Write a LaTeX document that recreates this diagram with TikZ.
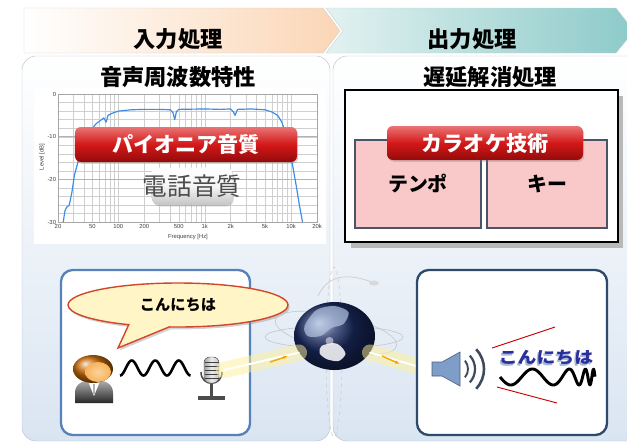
\documentclass[tikz,border=0pt]{standalone}
\usepackage{fontspec}
\setmainfont{Noto Sans CJK JP}
\newfontfamily\axisfont{Liberation Sans}
\usepackage{tikz}
\usetikzlibrary{
    arrows.meta,
    positioning,
    shapes.geometric,
    shapes.callouts,
    shadows,
    calc
}
\definecolor{bannerpeach}{HTML}{FBD6B6}
\definecolor{bannertealpale}{HTML}{E2F2F1}
\definecolor{bannerteal}{HTML}{8CCAC9}
\definecolor{panelblue}{HTML}{DAE5F2}
\definecolor{panelline}{HTML}{B9C3CF}
\definecolor{gridgray}{HTML}{CFCFCF}
\definecolor{curveblue}{HTML}{3D8DE2}
\definecolor{btnredtop}{HTML}{E97474}
\definecolor{btnred}{HTML}{D41818}
\definecolor{btnreddark}{HTML}{930B0B}
\definecolor{tilepink}{HTML}{F9C9CA}
\definecolor{tileborder}{HTML}{4A5468}
\definecolor{frameblue}{HTML}{5781B9}
\definecolor{framenavy}{HTML}{2E4A6B}
\definecolor{bubblefill}{HTML}{FFF5C6}
\definecolor{bubbleline}{HTML}{D2472C}
\definecolor{speakerblue}{HTML}{7F9DC9}
\definecolor{wavegray}{HTML}{3E4A5E}
\definecolor{helloblue}{HTML}{2B2F9C}
\definecolor{globenavy}{HTML}{1B2B63}
\definecolor{globeland}{HTML}{B4C4E2}
\definecolor{beamyellow}{HTML}{FFF19A}
\definecolor{sparkorange}{HTML}{F5A800}
\definecolor{hairbrown}{HTML}{B8660E}
\definecolor{facepeach}{HTML}{F7B45A}
\tikzset{
    stage label/.style={
        font=\bfseries\fontsize{19}{21}\selectfont
    },
    panel title/.style={
        font=\bfseries\fontsize{19}{21}\selectfont
    },
    grid line/.style={
        draw=gridgray, line width=0.3pt
    },
    curve line/.style={
        draw=curveblue, line width=1pt, line join=round
    },
    tick label/.style={
        font=\axisfont\fontsize{5}{6}\selectfont, text=black!75,
        inner sep=1.5pt
    },
    red button/.style={
        rectangle, rounded corners=5pt,
        top color=btnredtop, bottom color=btnreddark, middle color=btnred,
        text=white, font=\bfseries\fontsize{18}{20}\selectfont,
        drop shadow={opacity=0.3, shadow xshift=1pt, shadow yshift=-1.5pt}
    },
    gray button/.style={
        rectangle, rounded corners=6pt,
        top color=white, bottom color=gray!45, middle color=gray!8,
        drop shadow={opacity=0.35, shadow xshift=1pt, shadow yshift=-1.5pt}
    },
    tile/.style={
        rectangle, draw=tileborder, line width=0.9pt, fill=tilepink,
        font=\bfseries\fontsize{17}{19}\selectfont
    },
    media frame/.style={
        rectangle, draw=#1, line width=2pt, rounded corners=10pt,
        fill=white
    },
    beam glow/.style={
        line width=14pt, draw=beamyellow, opacity=0.5, line cap=round
    },
    beam core/.style={
        line width=1.6pt, draw=white, line cap=round
    },
    spark/.style={
        -{Latex[length=4pt,width=3pt]}, line width=1.2pt, draw=sparkorange
    },
    orbit/.style={
        draw=gray!45, line width=0.5pt
    },
}

\begin{document}
\begin{tikzpicture}[x=0.03cm, y=0.03cm]
    \useasboundingbox (0,0) rectangle (627,-443);
    \fill[white] (0,0) rectangle (627,-443);

    % Stage banners
    \shade[left color=white, right color=bannerpeach, draw=gray!35]
        (24,-8) -- (323,-8) -- (340,-31) -- (323,-53) -- (24,-53) -- cycle;
    \shade[left color=bannertealpale, right color=bannerteal, draw=gray!35]
        (326,-8) -- (616,-8) -- (634,-31) -- (616,-53) -- (326,-53) -- (343,-31) -- cycle;
    \node[stage label] (inStage) at (178,-39) {入力処理};
    \node[stage label] (outStage) at (472,-39) {出力処理};

    % Panels
    \shade[top color=white, bottom color=panelblue, draw=panelline, rounded corners=12pt]
        (22,-56) rectangle (330,-441);
    \shade[top color=white, bottom color=panelblue, draw=panelline, rounded corners=12pt]
        (333,-56) rectangle (650,-441);
    \node[panel title] (inTitle) at (178,-77) {音声周波数特性};
    \node[panel title] (outTitle) at (490,-77) {遅延解消処理};

    % Frequency response chart
    \fill[white] (34,-88) rectangle (326,-244);
    \begin{scope}[shift={(58,-94)}, xscale=86.33, yscale=4.27]
        \foreach \v in {-2,-4,...,-28}
            \draw[grid line] (0,\v) -- (3,\v);
        \foreach \e in {1,2,3,4}
            \foreach \m in {1,...,9} {
                \pgfmathsetmacro\lx{log10(\m)+\e-1.30103}
                \ifdim\lx pt>-0.01pt \ifdim\lx pt<3.01pt
                    \draw[grid line] (\lx,0) -- (\lx,-30);
                \fi\fi
            }
        \foreach \v in {-10,-20}
            \draw[draw=gray!60, line width=0.4pt] (0,\v) -- (3,\v);
        \draw[gray!70, line width=0.5pt] (0,0) rectangle (3,-30);
        \draw[curve line] ({log10(23/20)},-30)
            \foreach \f/\v in {24/-27.5, 25/-26.6, 27/-26, 29/-23, 31/-19,
                               34/-16, 38/-12.5, 42/-10.5, 48/-8.5, 55/-7,
                               62/-6.2, 68/-5.6, 72/-6.6, 76/-5, 85/-4.5,
                               100/-4, 140/-3.7, 200/-3.6, 300/-3.6, 400/-3.7,
                               430/-4.4, 450/-6, 470/-4.2, 500/-3.6, 1000/-3.5,
                               1500/-3.6, 2000/-3.5, 2150/-4.2, 2250/-5,
                               2400/-3.6, 3500/-3.5, 5000/-3.7, 6000/-4.2,
                               7000/-5, 7800/-6.5, 8600/-9, 9500/-12.5,
                               10500/-17, 11500/-21.5, 12500/-26, 13600/-30}
            { -- ({log10(\f/20)},\v) };
        \foreach \v/\t in {0/0, -10/-10, -20/-20, -30/-30}
            \node[tick label, anchor=east] at (0,\v) {\t};
        \foreach \f/\t in {20/20, 50/50, 100/100, 200/200, 500/500,
                           1000/1k, 2000/2k, 5000/5k, 10000/10k}
            \node[tick label, anchor=north] at ({log10(\f/20)},-30) {\t};
        \node[tick label, anchor=north] at (3,-30) {20k};
    \end{scope}
    \node[tick label] (freqLabel) at (188,-237) {Frequency [Hz]};
    \node[tick label, rotate=90] (levelLabel) at (42,-157) {Level [dB]};

    \node[red button, minimum width=6.66cm, minimum height=1.05cm] (pioneer) at (186,-144.5) {パイオニア音質};
    \node[gray button, minimum width=2.43cm, minimum height=1.11cm] (phoneBtn) at (192,-186) {};
    \node[font=\fontsize{21}{23}\selectfont, text=black!70] (phoneTxt) at (phoneBtn.center) {電話音質};

    % Delay compensation box
    \fill[gray!55] (351,-96) rectangle (623,-248);
    \draw[black, line width=1.1pt, fill=white] (345,-90) rectangle (618,-242);
    \node[tile, minimum width=3.78cm, minimum height=2.64cm] (tempo) at (418,-184) {テンポ};
    \node[tile, minimum width=3.6cm, minimum height=2.64cm] (key) at (547,-184) {キー};
    \node[red button, minimum width=5.88cm, minimum height=1.02cm] (karaoke) at (485,-143) {カラオケ技術};

    % Speaker side
    \node[media frame=frameblue, minimum width=5.67cm, minimum height=4.95cm] (talkBox) at (155.5,-352.5) {};
    \node[ellipse callout, draw=bubbleline, line width=1.2pt, fill=bubblefill,
          minimum width=6.6cm, minimum height=1.32cm,
          callout absolute pointer={(118,-348)}, callout pointer arc=22,
          drop shadow={opacity=0.35, shadow xshift=1.5pt, shadow yshift=-2pt},
          font=\bfseries\fontsize{13}{15}\selectfont] (hello) at (178,-305) {こんにちは};

    % Person
    \shade[top color=gray!60, bottom color=black!85]
        (75,-403) -- (75,-393) .. controls (75,-384) and (82,-380) .. (94,-380)
        .. controls (106,-380) and (113,-384) .. (113,-393) -- (113,-403) -- cycle;
    \fill[white] (88,-381) -- (94,-396) -- (100,-381) -- cycle;
    \fill[gray!60] (93,-384) -- (95,-384) -- (94.8,-394) -- (93.2,-394) -- cycle;
    \shade[ball color=hairbrown!70!orange] (93,-369) ellipse [x radius=20, y radius=14];
    \shade[inner color=facepeach!60!white, outer color=facepeach]
        (98,-372) ellipse [x radius=13, y radius=10];

    \draw[line width=2.2pt, line join=round]
        plot[domain=0:3, samples=90] ({120+23.5*\x}, {-368-7.5*cos(360*\x)});

    % Microphone
    \coordinate (mic) at (224,-370);
    \draw[gray!60!black, line width=1.3pt]
        (201,-372) .. controls (201,-387) and (222,-387) .. (222,-372);
    \draw[gray!60!black, line width=1.8pt] (211.5,-384) -- (211.5,-397);
    \fill[gray!60!black] (198,-396) rectangle (225,-400);
    \shade[left color=gray!75, right color=gray!45, middle color=gray!15,
           draw=gray!60!black, rounded corners=5pt] (204,-357) rectangle (219,-383);
    \foreach \yy in {-362,-366,...,-378}
        \draw[gray!50!black, line width=0.4pt] (204.5,\yy) -- (218.5,\yy);

    % Globe with orbits
    \draw[orbit] (334,-337) ellipse [x radius=69, y radius=11];
    \draw[orbit, dashed, gray!40] (334,-352) ellipse [x radius=8, y radius=85];
    \draw[orbit, rotate around={-12:(336,-333)}]
        (336,-333) ellipse [x radius=62, y radius=18];
    \draw[orbit, gray!40, line width=0.6pt] (318,-296) .. controls (330,-270) and (355,-276) .. (372,-282);
    \fill[gray!30] (374,-283) ellipse [x radius=5, y radius=2.5];
    \node[ellipse, minimum width=2.43cm, minimum height=2.04cm, inner sep=0pt,
          ball color=globenavy] (globe) at (334.5,-336) {};
    \begin{scope}[shift={(globe.center)}]
        \fill[globeland, opacity=0.7] plot[smooth cycle] coordinates
            {(-30,10) (-18,26) (0,30) (14,24) (9,12) (-3,8) (-14,0) (-27,0)};
        \fill[white, opacity=0.85] plot[smooth cycle] coordinates
            {(-13,-10) (-1,-7) (6,-10) (11,-18) (4,-25) (-8,-23) (-15,-17)};
        \fill[white, opacity=0.5] (-5,-5) circle (4);
    \end{scope}

    % Transmission beams
    \coordinate (speakerIn) at (430,-370);
    \draw[beam glow] (mic) -- (globe.205);
    \draw[beam glow] (globe.335) -- (speakerIn);
    \draw[beam core] (mic) -- (globe.205);
    \draw[beam core] (globe.335) -- (speakerIn);
    \draw[spark] (270,-362) -- (288,-356);
    \draw[spark] (382,-356) -- (400,-364);

    % Listener side
    \node[media frame=framenavy, minimum width=5.7cm, minimum height=4.95cm] (listenBox) at (512,-352.5) {};
    \filldraw[fill=speakerblue, draw=speakerblue!60!black, line width=0.5pt]
        (432,-362) -- (442,-362) -- (460,-352) -- (460,-386) -- (442,-376) -- (432,-376) -- cycle;
    \foreach \r/\a/\w in {13/40/1.6pt, 20/42/1.9pt, 29/43/2.2pt}
        \draw[wavegray, line width=\w]
            ($(455,-369)+(-\a:\r)$) arc[start angle=-\a, end angle=\a, radius=\r];
    \draw[red!80!black, line width=0.8pt] (492,-348) -- (555,-327);
    \draw[red!80!black, line width=0.8pt] (497,-387) -- (557,-403);
    \node[text=speakerblue!70, font=\bfseries\fontsize{14}{16}\selectfont]
        at (544.5,-359.5) {\scalebox{1.15}[1]{こんにちは}};
    \node[text=helloblue, font=\bfseries\fontsize{14}{16}\selectfont]
        (helloOut) at (546,-358) {\scalebox{1.15}[1]{こんにちは}};
    \draw[line width=2.5pt, line join=round]
        plot[domain=0:1, samples=160] ({500+95*\x}, {-377-8*sin(360*(2.2*\x+1.8*\x^8))});
\end{tikzpicture}
\end{document}
